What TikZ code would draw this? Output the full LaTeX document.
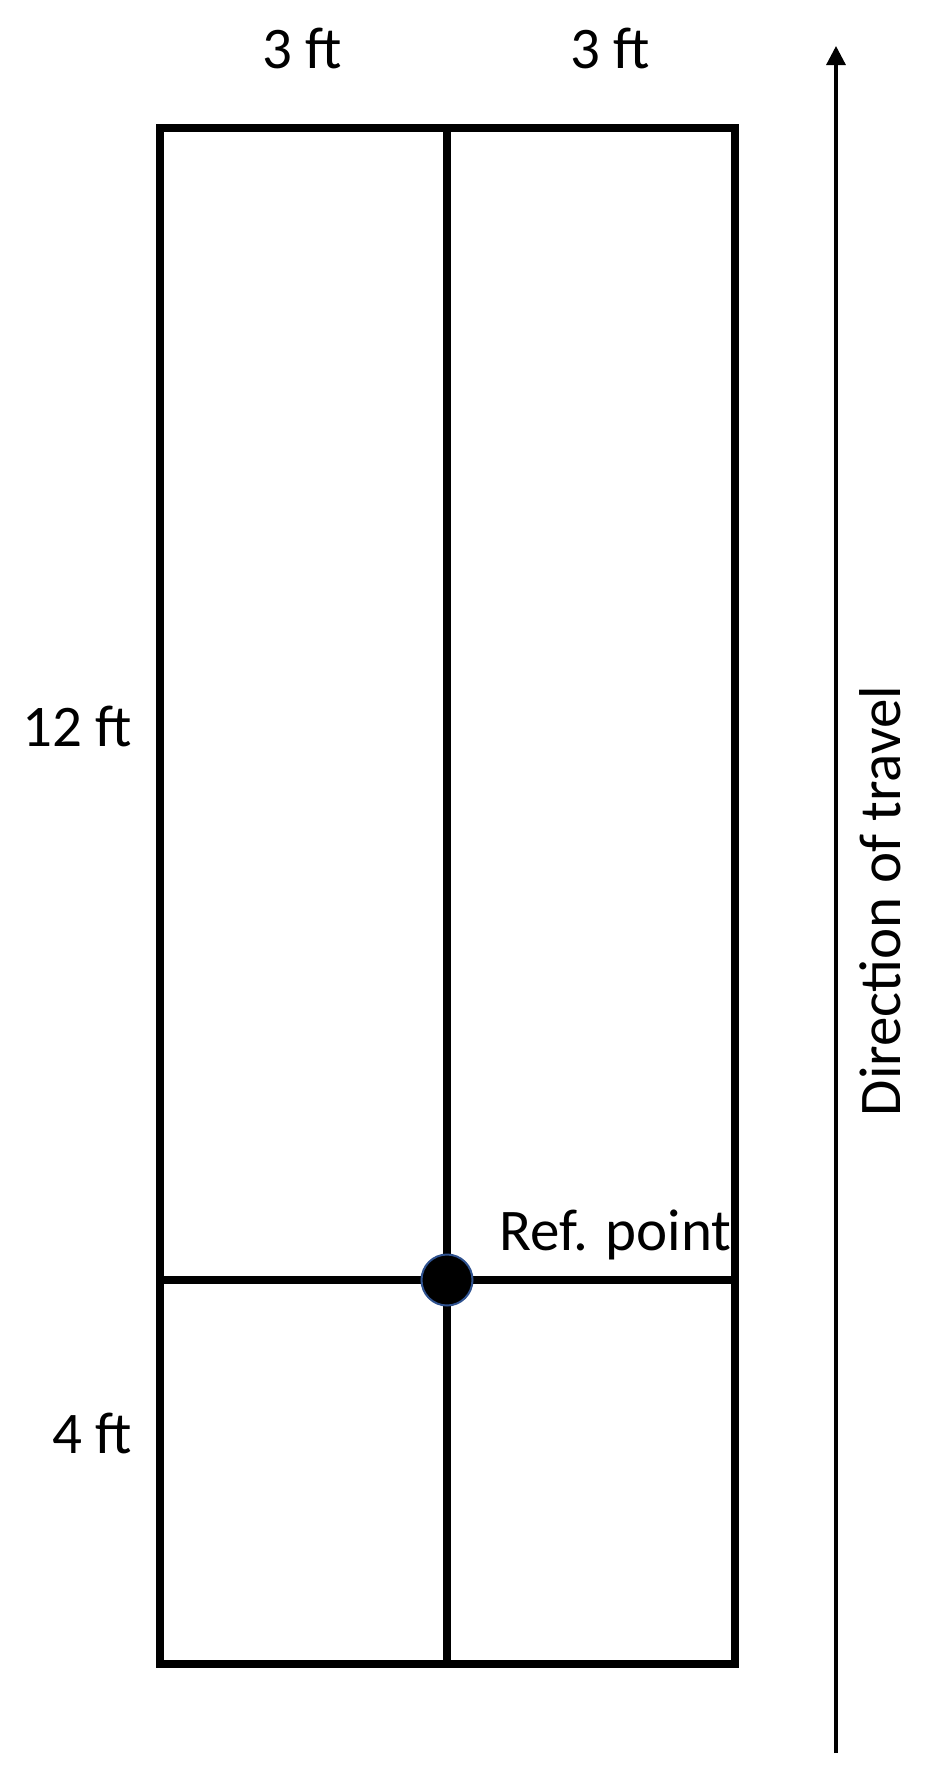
\documentclass[tikz,border=0pt]{standalone}
\usepackage{fontspec}
\setmainfont{Carlito}
\usetikzlibrary{arrows.meta}
\definecolor{refblue}{HTML}{2F528F}
\begin{document}
\begin{tikzpicture}[x=1pt,y=-1pt,
  frame/.style={line width=8pt,line join=miter},
  lbl/.style={font=\fontsize{59}{61}\selectfont,inner sep=0pt},
  travel/.style={line width=3.2pt,-{Triangle[length=19pt,width=19pt]}}]
\useasboundingbox (0,0) rectangle (928,1789);
\coordinate (tl) at (160,128);
\coordinate (br) at (735,1664);
\coordinate (mt) at (447,128);
\coordinate (mb) at (447,1664);
\coordinate (hl) at (160,1280);
\coordinate (hr) at (735,1280);
\draw[frame] (tl) rectangle (br);
\draw[frame] (mt) -- (mb);
\draw[frame] (hl) -- (hr);
\node[circle,fill=black,draw=refblue,line width=2pt,minimum size=51pt,inner sep=0pt] (ref) at (447,1280) {};
\node[lbl] (w1) at (302,48) {3 ft};
\node[lbl] (w2) at (610,48) {3 ft};
\node[lbl,anchor=east] (l1) at (132,726) {12 ft};
\node[lbl,anchor=east] (l2) at (132,1433) {4 ft};
\node[lbl,anchor=base west] (rp) at (499,1250) {Ref. point};
\coordinate (a0) at (836,1753);
\coordinate (a1) at (836,46);
\draw[travel] (a0) -- (a1);
\node[lbl,rotate=90] (dir) at (880,901) {Direction of travel};
\end{tikzpicture}
\end{document}
